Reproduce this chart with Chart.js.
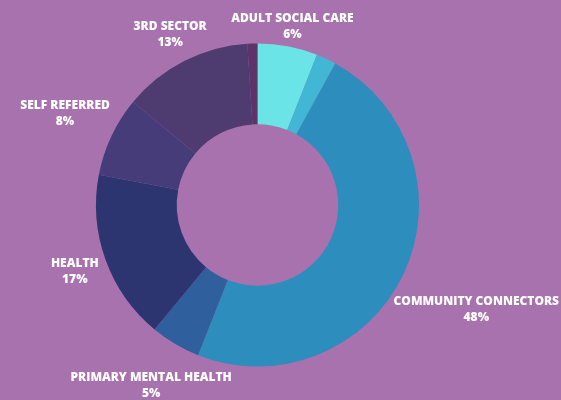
<!DOCTYPE html>
<html>
<head>
<meta charset="utf-8">
<script src="https://cdn.jsdelivr.net/npm/chart.js@4"></script>
<style>
  html, body { margin: 0; padding: 0; background: #a872ae; }
  #wrap { width: 561px; height: 400px; position: relative; }
</style>
</head>
<body>
<div id="wrap"><canvas id="referralChart"></canvas></div>
<script>
// referral sources, clockwise from 12 o'clock
const sources = ["ADULT SOCIAL CARE", "", "COMMUNITY CONNECTORS", "PRIMARY MENTAL HEALTH",
                 "HEALTH", "SELF REFERRED", "3RD SECTOR", ""];
const shares = [6, 2, 48, 5, 17, 8, 13, 1];
const sliceColors = ["#6ae4e6", "#41b6d5", "#2d8dbc", "#2f5f9c",
                     "#2d3570", "#463c7a", "#4e3b70", "#5c3468"];

// writes name + percentage outside each slice, pushed away from the ring
const outsideLabels = {
    id: "outsideLabels",
    afterDatasetsDraw(chart, args, opts) {
        const { ctx } = chart;
        const meta = chart.getDatasetMeta(0);
        ctx.save();
        ctx.fillStyle = "#ffffff";
        ctx.textAlign = "center";
        ctx.textBaseline = "middle";
        ctx.font = opts.font;
        meta.data.forEach((arc, i) => {
            if (!sources[i]) return;
            const mid = (arc.startAngle + arc.endAngle) / 2;
            const r = arc.outerRadius + 12;
            const cos = Math.cos(mid), sin = Math.sin(mid);
            const line2 = shares[i] + "%";
            const w = Math.max(ctx.measureText(sources[i]).width, ctx.measureText(line2).width);
            const h = 32;
            const nudge = opts.nudge[i] || [0, 0];
            let x = arc.x + cos * r + cos * w / 2 + nudge[0];
            let y = arc.y + sin * r + sin * h / 2 + nudge[1];
            x = Math.min(Math.max(x, w / 2 + 2), chart.width - w / 2 - 2);
            ctx.fillText(sources[i], x, y - 8);
            ctx.fillText(line2, x, y + 8);
        });
        ctx.restore();
    }
};

new Chart(document.getElementById("referralChart"), {
    type: "doughnut",
    data: {
        labels: sources,
        datasets: [{
            data: shares,
            backgroundColor: sliceColors,
            borderWidth: 0
        }]
    },
    options: {
        responsive: true,
        maintainAspectRatio: false,
        animation: false,
        cutout: "50%",
        layout: { padding: { left: 96, right: 142, top: 43, bottom: 33 } },
        plugins: {
            legend: { display: false },
            tooltip: { enabled: false },
            outsideLabels: {
                font: "800 12px 'Open Sans', sans-serif",
                // hand tweaks so the labels sit clear of the ring
                nudge: [[-9, 8], null, [1, 24], [23, 17], [3, 2], [5, -11], [8, -2], null]
            }
        }
    },
    plugins: [outsideLabels]
});
</script>
</body>
</html>
